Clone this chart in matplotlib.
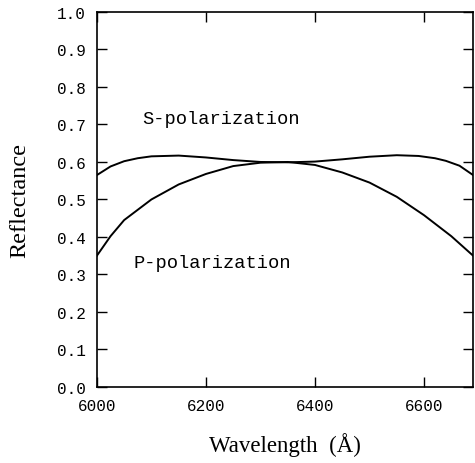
import matplotlib.pyplot as plt

# wavelength (Angstrom) and reflectance
wl_s = [6000, 6025, 6050, 6075, 6100, 6150, 6200, 6250, 6300, 6350,
        6400, 6450, 6500, 6550, 6590, 6620, 6640, 6665, 6690]
refl_s = [0.565, 0.588, 0.602, 0.610, 0.615, 0.617, 0.612, 0.605, 0.600, 0.599,
          0.601, 0.607, 0.614, 0.618, 0.616, 0.610, 0.603, 0.590, 0.565]

wl_p = [6000, 6025, 6050, 6100, 6150, 6200, 6250, 6300, 6350, 6400,
        6450, 6500, 6550, 6600, 6650, 6690]
refl_p = [0.350, 0.402, 0.445, 0.500, 0.540, 0.568, 0.589, 0.598, 0.600, 0.592,
          0.572, 0.545, 0.507, 0.458, 0.402, 0.350]

xticks = [6000, 6200, 6400, 6600]
yticks = [0.0, 0.1, 0.2, 0.3, 0.4, 0.5, 0.6, 0.7, 0.8, 0.9, 1.0]

fig = plt.figure(figsize=(4.75, 4.64), dpi=100)
ax = fig.add_axes([0.204, 0.164, 0.792, 0.808])

ax.plot(wl_s, refl_s, color='black', lw=1.4)
ax.plot(wl_p, refl_p, color='black', lw=1.4)

ax.text(6083, 0.717, 'S-polarization', family='Liberation Mono', fontsize=13.5,
        va='center', ha='left')
ax.text(6067, 0.333, 'P-polarization', family='Liberation Mono', fontsize=13.5,
        va='center', ha='left')

ax.set_xlim(6000, 6690)
ax.set_ylim(0, 1.0)
ax.set_xticks(xticks)
ax.set_yticks(yticks)
ax.set_xticklabels([str(t) for t in xticks], family='Liberation Mono', fontsize=11.5)
ax.set_yticklabels(['%.1f' % t for t in yticks], family='Liberation Mono', fontsize=11.5)
ax.tick_params(direction='in', length=7, width=1, top=True, right=True, pad=8)
for s in ax.spines.values():
    s.set_linewidth(1.2)

ax.set_xlabel('Wavelength  (Å)', family='Liberation Serif', fontsize=16.5, labelpad=14)
ax.set_ylabel('Reflectance', family='Liberation Serif', fontsize=17.5, labelpad=19)

fig.savefig('out.png', dpi=100)
